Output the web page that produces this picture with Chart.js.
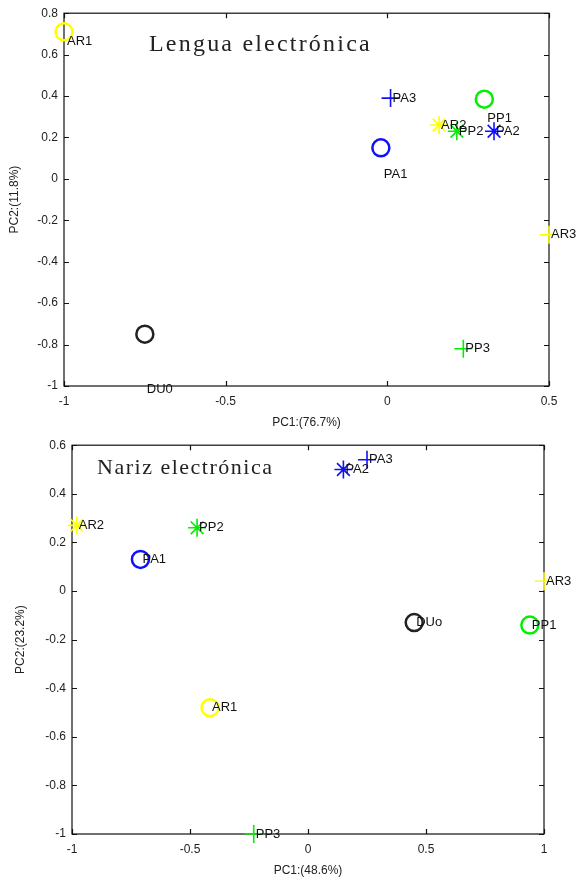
<!DOCTYPE html>
<html>
<head>
  <meta charset="utf-8">
  <title>PCA - Lengua y Nariz electrónica</title>
  <style>
    body { margin: 0; background: #fff; }
    .panel { position: absolute; left: 0; width: 576px; }
    #panelLengua { top: 0; height: 432px; }
    #panelNariz { top: 432px; height: 448px; }
  </style>
</head>
<body>
  <div class="panel" id="panelLengua"><canvas id="lengua"></canvas></div>
  <div class="panel" id="panelNariz"><canvas id="nariz"></canvas></div>

  <script src="https://cdn.jsdelivr.net/npm/chart.js"></script>
  <script>
    // muestras (mismo orden en las dos gráficas)
    const muestras = ['AR1', 'AR2', 'AR3', 'PP1', 'PP2', 'PP3', 'PA1', 'PA2', 'PA3', 'DU0'];

    // Lengua electrónica: PC1 (76.7%) / PC2 (11.8%)
    const lenguaPC1 = [-1.0, 0.16, 0.50, 0.30, 0.215, 0.235, -0.02, 0.33, 0.01, -0.75];
    const lenguaPC2 = [0.71, 0.26, -0.27, 0.385, 0.23, -0.82, 0.15, 0.23, 0.39, -0.75];
    const lenguaEtiquetas = ['AR1', 'AR2', 'AR3', 'PP1', 'PP2', 'PP3', 'PA1', 'PA2', 'PA3', 'DU0'];

    // Nariz electrónica: PC1 (48.6%) / PC2 (23.2%)
    const narizPC1 = [-0.415, -0.98, 1.0, 0.94, -0.47, -0.23, -0.71, 0.15, 0.25, 0.45];
    const narizPC2 = [-0.48, 0.27, 0.04, -0.14, 0.26, -1.0, 0.13, 0.50, 0.54, -0.13];
    const narizEtiquetas = ['AR1', 'AR2', 'AR3', 'PP1', 'PP2', 'PP3', 'PA1', 'PA2', 'PA3', 'DUo'];

    // estilos
    const colores = { AR: '#ffff00', PP: '#00f000', PA: '#1010ff', DU: '#222222' };
    const marcadores = { '1': 'circle', '2': 'star', '3': 'cross', '0': 'circle' };
    const fuente = '"Liberation Sans", Arial, sans-serif';

    const colorDe = m => colores[m.slice(0, 2)];
    const marcaDe = m => marcadores[m.slice(2)];

    // marco tipo matlab con marcas hacia dentro
    const marco = {
      id: 'marco',
      beforeDatasetsDraw(chart) {
        const { ctx, chartArea: a, scales } = chart;
        ctx.save();
        ctx.strokeStyle = '#111';
        ctx.lineWidth = 1.2;
        ctx.strokeRect(a.left, a.top, a.right - a.left, a.bottom - a.top);
        const L = 5;
        ctx.beginPath();
        scales.x.ticks.forEach(t => {
          const px = Math.round(scales.x.getPixelForValue(t.value)) + 0.5;
          ctx.moveTo(px, a.bottom); ctx.lineTo(px, a.bottom - L);
          ctx.moveTo(px, a.top); ctx.lineTo(px, a.top + L);
        });
        scales.y.ticks.forEach(t => {
          const py = Math.round(scales.y.getPixelForValue(t.value)) + 0.5;
          ctx.moveTo(a.left, py); ctx.lineTo(a.left + L, py);
          ctx.moveTo(a.right, py); ctx.lineTo(a.right - L, py);
        });
        ctx.stroke();
        ctx.restore();
      },
      afterDatasetsDraw(chart, args, opts) {
        const { ctx, chartArea: a } = chart;
        const meta = chart.getDatasetMeta(0);
        ctx.save();
        // etiquetas de las muestras
        ctx.font = '13px ' + fuente;
        ctx.fillStyle = '#111';
        ctx.textBaseline = 'middle';
        ctx.textAlign = 'left';
        meta.data.forEach((p, i) => {
          const d = opts.desplaz[i] || [2, 0];
          ctx.fillText(opts.etiquetas[i], p.x + d[0], p.y + d[1]);
        });
        // titulo dentro del area
        ctx.font = opts.tam + 'px "Liberation Serif", "DejaVu Serif", serif';
        ctx.letterSpacing = opts.espacio + 'px';
        ctx.fillStyle = '#222';
        ctx.textAlign = 'center';
        ctx.fillText(opts.titulo, a.left + opts.tx * (a.right - a.left), a.top + opts.ty);
        ctx.restore();
      }
    };

    function hacerGrafica(id, pc1, pc2, etiquetas, cfg) {
      const puntos = pc1.map((x, i) => ({ x: x, y: pc2[i] }));
      return new Chart(document.getElementById(id), {
        type: 'scatter',
        data: {
          datasets: [{
            data: puntos,
            pointStyle: muestras.map(marcaDe),
            borderColor: muestras.map(colorDe),
            backgroundColor: 'rgba(0,0,0,0)',
            pointRadius: muestras.map(m => marcaDe(m) === 'circle' ? 8.5 : 9),
            borderWidth: muestras.map(m => marcaDe(m) === 'circle' ? 2.5 : 1.6),
            clip: false
          }]
        },
        options: {
          responsive: true,
          maintainAspectRatio: false,
          animation: false,
          events: [],
          layout: { autoPadding: false, padding: cfg.padding },
          plugins: {
            legend: { display: false },
            tooltip: { enabled: false },
            marco: {
              etiquetas: etiquetas, desplaz: cfg.desplaz, titulo: cfg.titulo,
              tx: cfg.tx, ty: cfg.ty, tam: cfg.tam, espacio: cfg.espacio
            }
          },
          scales: {
            x: {
              type: 'linear',
              min: cfg.xmin, max: cfg.xmax,
              afterFit: s => { s.height = cfg.xAlto; },
              grid: { display: false, drawTicks: false },
              border: { display: false },
              ticks: {
                stepSize: 0.5, padding: 8, color: '#222',
                font: { family: fuente, size: 12 },
                callback: v => String(+v.toFixed(2))
              },
              title: {
                display: true, text: cfg.xTitulo, color: '#222',
                font: { family: fuente, size: 12 },
                padding: { top: 0, bottom: 2 }
              }
            },
            y: {
              type: 'linear',
              min: cfg.ymin, max: cfg.ymax,
              afterFit: s => { s.width = cfg.yAncho; },
              grid: { display: false, drawTicks: false },
              border: { display: false },
              ticks: {
                stepSize: 0.2, padding: 6, color: '#222',
                font: { family: fuente, size: 12 },
                callback: v => String(+v.toFixed(2))
              },
              title: {
                display: true, text: cfg.yTitulo, color: '#222',
                font: { family: fuente, size: 12 },
                padding: { top: cfg.yTitPad, bottom: 0 }
              }
            }
          }
        },
        plugins: [marco]
      });
    }

    hacerGrafica('lengua', lenguaPC1, lenguaPC2, lenguaEtiquetas, {
      xmin: -1, xmax: 0.5, ymin: -1, ymax: 0.8,
      padding: { left: 0, right: 27, top: 9, bottom: 0 },
      yAncho: 64, xAlto: 46, yTitPad: 7,
      xTitulo: 'PC1:(76.7%)', yTitulo: 'PC2:(11.8%)',
      titulo: 'Lengua electrónica', tx: 0.405, ty: 32, tam: 24, espacio: 2.2,
      desplaz: [[3, 10], [2, 0], [2, 0], [3, 19], [2, 0], [2, 0], [3, 27], [2, 0], [2, 0], [2, 55]]
    });

    hacerGrafica('nariz', narizPC1, narizPC2, narizEtiquetas, {
      xmin: -1, xmax: 1, ymin: -1, ymax: 0.6,
      padding: { left: 0, right: 32, top: 8, bottom: 0 },
      yAncho: 72, xAlto: 46, yTitPad: 13,
      xTitulo: 'PC1:(48.6%)', yTitulo: 'PC2:(23.2%)',
      titulo: 'Nariz electrónica', tx: 0.24, ty: 23, tam: 22, espacio: 1.5,
      desplaz: []
    });
  </script>
</body>
</html>
